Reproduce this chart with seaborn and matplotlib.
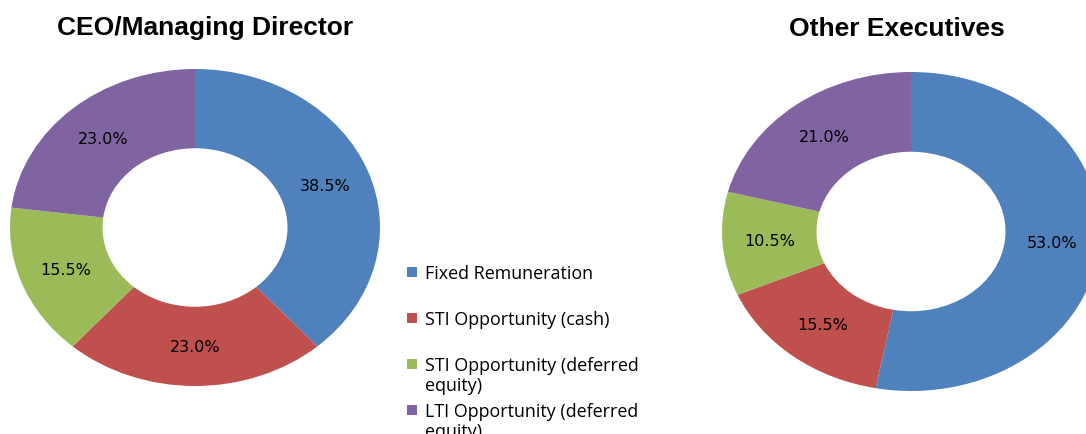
import matplotlib
matplotlib.use("Agg")
import matplotlib.pyplot as plt
from matplotlib.patches import Rectangle
import seaborn as sns

# Data
categories = ["Fixed Remuneration", "STI Opportunity (cash)",
              "STI Opportunity (deferred equity)", "LTI Opportunity (deferred equity)"]
legend_labels = ["Fixed Remuneration", "STI Opportunity (cash)",
                 "STI Opportunity (deferred\nequity)", "LTI Opportunity (deferred\nequity)"]
ceo_share = [38.5, 23.0, 15.5, 23.0]
other_share = [53.0, 15.5, 10.5, 21.0]
colors = ["#4F81BD", "#C0504D", "#9BBB59", "#8064A2"]

sns.set_style("white")
palette = sns.color_palette(colors)

W, H = 1086, 435
fig = plt.figure(figsize=(W / 100, H / 100), dpi=100)


def box(x0, y0, x1, y1):
    # pixel box (top-left origin) -> figure fraction rect
    return [x0 / W, 1 - y1 / H, (x1 - x0) / W, (y1 - y0) / H]


def donut(rect, values):
    ax = fig.add_axes(rect)
    wedges, _, pcts = ax.pie(
        values, colors=palette, startangle=90, counterclock=False,
        autopct="%.1f%%", pctdistance=0.75,
        wedgeprops=dict(width=0.50, linewidth=0),
        textprops=dict(fontsize=11.5, color="black", family="DejaVu Sans"))
    ax.set_aspect("auto")
    ax.set_xlim(-1, 1)
    ax.set_ylim(-1, 1)
    ax.axis("off")
    return wedges


wedges = donut(box(10, 70, 380, 387), ceo_share)
donut(box(722, 73, 1100, 392), other_share)

fig.text(205 / W, 1 - 28 / H, "CEO/Managing Director", ha="center", va="center",
         fontsize=19, fontweight="bold", family="Liberation Sans", color="black")
fig.text(897 / W, 1 - 29 / H, "Other Executives", ha="center", va="center",
         fontsize=19, fontweight="bold", family="Liberation Sans", color="black")

# legend, one fixed slot per category like the original
for i, (lab, w) in enumerate(zip(legend_labels, wedges)):
    yc = 273 + 46 * i
    fig.add_artist(Rectangle((407 / W, 1 - (yc + 5) / H), 10 / W, 10 / H,
                             transform=fig.transFigure,
                             facecolor=w.get_facecolor(), edgecolor="none"))
    fig.text(425 / W, 1 - (yc - 8) / H, lab, ha="left", va="top",
             fontsize=12.9, family="Open Sans", linespacing=1.15, color="black")

fig.savefig("out.png", dpi=100)
